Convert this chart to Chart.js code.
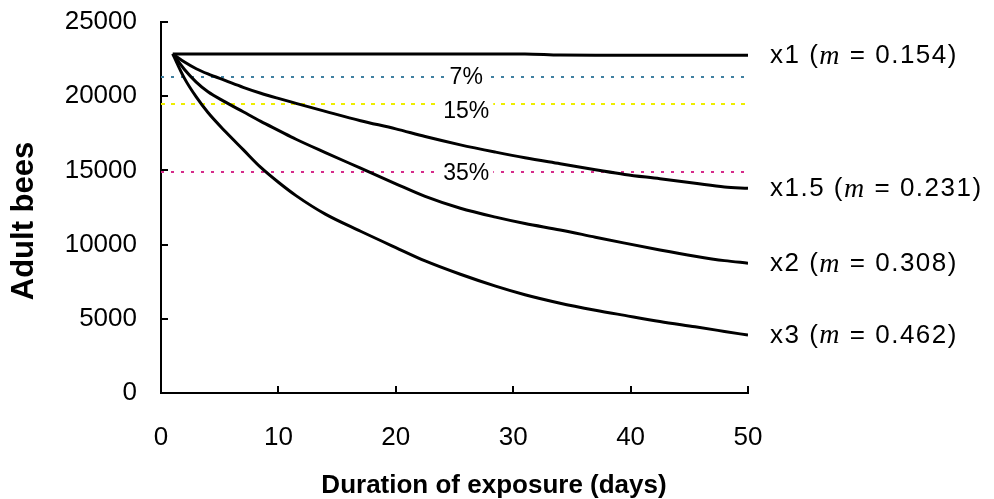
<!DOCTYPE html>
<html>
<head>
<meta charset="UTF-8">
<title>Adult bees</title>
<script src="https://cdn.jsdelivr.net/npm/chart.js"></script>
<style>
  html, body { margin: 0; padding: 0; background: #fff; }
  #wrap { width: 994px; height: 499px; position: relative; }
</style>
</head>
<body>
<div id="wrap"><canvas id="myChart"></canvas></div>

<script>
var days = [1, 2, 3, 4, 5.5, 7, 8.5, 10, 11.5, 14, 17, 20, 22.5, 25.5, 28.5, 31, 34, 37, 39.5, 42.5, 45.5, 48, 50];

var beesX1  = [22850, 22850, 22850, 22850, 22850, 22850, 22850, 22850, 22850, 22850, 22850, 22850, 22850, 22850, 22850, 22850, 22770, 22760, 22760, 22760, 22760, 22760, 22760];
var beesX15 = [22850, 22300, 21850, 21500, 21050, 20600, 20200, 19850, 19520, 18980, 18350, 17800, 17280, 16720, 16230, 15850, 15450, 15050, 14730, 14440, 14130, 13880, 13800];
var beesX2  = [22850, 21800, 20950, 20300, 19600, 18950, 18300, 17700, 17100, 16200, 15150, 14100, 13250, 12450, 11850, 11420, 10990, 10500, 10100, 9640, 9220, 8920, 8750];
var beesX3  = [22850, 21200, 19950, 18900, 17600, 16400, 15200, 14200, 13300, 12050, 10900, 9800, 8900, 8000, 7200, 6620, 6050, 5580, 5230, 4820, 4460, 4150, 3900];

var seriesNames = ['x1', 'x1.5', 'x2', 'x3'];
var seriesM = ['0.154', '0.231', '0.308', '0.462'];

// loss thresholds (horizontal dotted lines)
var lossLabels = ['7%', '15%', '35%'];
var lossLevels = [21300, 19470, 14890];

var xTicks = [0, 10, 20, 30, 40, 50];
var yTicks = [0, 5000, 10000, 15000, 20000, 25000];

var SANS = '"Liberation Sans", Arial, sans-serif';
var lossColors = ['#3f7fa0', '#eeee00', '#d62a8a'];
var lossDash = [[3, 7], [4, 6], [3, 7]];

function pts(arr) {
  return days.map(function (d, i) { return { x: d, y: arr[i] }; });
}

var datasets = [];
[beesX1, beesX15, beesX2, beesX3].forEach(function (arr, i) {
  datasets.push({
    label: seriesNames[i],
    data: pts(arr),
    borderColor: '#000',
    borderWidth: 3,
    pointRadius: 0,
    tension: 0.4,
    cubicInterpolationMode: 'monotone',
    fill: false,
    order: 1
  });
});
lossLevels.forEach(function (lv, i) {
  datasets.push({
    label: lossLabels[i],
    data: [{ x: xTicks[0], y: lv }, { x: xTicks[xTicks.length - 1], y: lv }],
    borderColor: lossColors[i],
    borderWidth: 2,
    borderDash: lossDash[i],
    pointRadius: 0,
    fill: false,
    order: 2
  });
});

var textPlugin = {
  id: 'texts',
  afterDraw: function (chart) {
    var ctx = chart.ctx;
    var xs = chart.scales.x, ys = chart.scales.y;
    ctx.save();
    ctx.fillStyle = '#000';

    // axis titles
    ctx.font = 'bold 26px ' + SANS;
    ctx.textAlign = 'center';
    ctx.textBaseline = 'middle';
    ctx.fillText('Duration of exposure (days)', 494, 486);

    ctx.save();
    ctx.translate(24, 221);
    ctx.rotate(-Math.PI / 2);
    ctx.font = 'bold 31px ' + SANS;
    ctx.fillText('Adult bees', 0, 0);
    ctx.restore();

    // loss labels with white box
    ctx.font = '23px ' + SANS;
    var offs = [0, 7, 1];
    lossLabels.forEach(function (t, i) {
      var cx = xs.getPixelForValue(26);
      var cy = ys.getPixelForValue(lossLevels[i]) + offs[i];
      var w = ctx.measureText(t).width;
      ctx.fillStyle = '#fff';
      ctx.fillRect(cx - w / 2 - 4, cy - 10, w + 8, 20);
      ctx.fillStyle = '#000';
      ctx.fillText(t, cx, cy + 1);
    });

    // series labels at right end
    ctx.textAlign = 'left';
    if ('letterSpacing' in ctx) ctx.letterSpacing = '1.5px';
    [beesX1, beesX15, beesX2, beesX3].forEach(function (arr, i) {
      var y = ys.getPixelForValue(arr[arr.length - 1]) + 1;
      var x = chart.chartArea.right + 22;
      var a = seriesNames[i] + ' (';
      var b = 'm';
      var c = ' = ' + seriesM[i] + ')';
      ctx.font = '26px ' + SANS;
      ctx.fillText(a, x, y);
      x += ctx.measureText(a).width;
      ctx.font = 'italic 28px "Liberation Serif", "Times New Roman", serif';
      ctx.fillText(b, x, y);
      x += ctx.measureText(b).width;
      ctx.font = '26px ' + SANS;
      ctx.fillText(c, x, y);
    });
    ctx.restore();
  }
};

var ctx = document.getElementById('myChart').getContext('2d');
var myChart = new Chart(ctx, {
  type: 'line',
  data: { datasets: datasets },
  options: {
    responsive: true,
    maintainAspectRatio: false,
    animation: false,
    layout: { padding: { left: 0, top: 22, right: 246, bottom: 0 } },
    plugins: { legend: { display: false }, tooltip: { enabled: false } },
    scales: {
      x: {
        type: 'linear',
        min: 0,
        max: 50,
        afterBuildTicks: function (s) { s.ticks = xTicks.map(function (v) { return { value: v }; }); },
        afterFit: function (s) { s.height = 106; s.paddingLeft = 0; s.paddingRight = 0; },
        grid: { drawOnChartArea: false, drawTicks: true, tickLength: -7, color: '#000', lineWidth: 2 },
        border: { display: true, color: '#000', width: 2 },
        ticks: { color: '#000', padding: 36, maxRotation: 0, font: { size: 26, family: SANS },
                 callback: function (v) { return String(v); } }
      },
      y: {
        type: 'linear',
        min: 0,
        max: 25000,
        afterBuildTicks: function (s) { s.ticks = yTicks.map(function (v) { return { value: v }; }); },
        afterFit: function (s) { s.width = 161; s.paddingTop = 0; s.paddingBottom = 0; },
        grid: { drawOnChartArea: false, drawTicks: true, tickLength: -7, color: '#000', lineWidth: 2 },
        border: { display: true, color: '#000', width: 2 },
        ticks: { color: '#000', padding: 31, font: { size: 26, family: SANS },
                 callback: function (v) { return String(v); } }
      }
    }
  },
  plugins: [textPlugin]
});
</script>
</body>
</html>
